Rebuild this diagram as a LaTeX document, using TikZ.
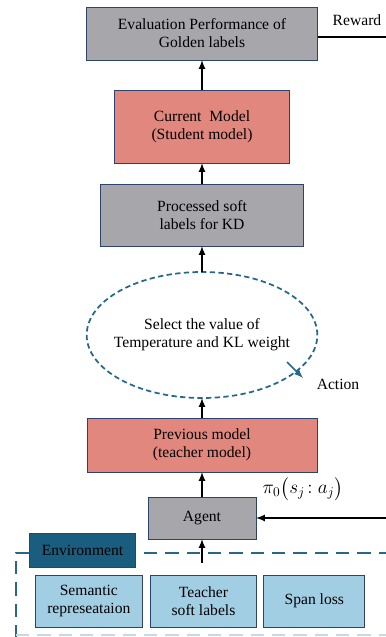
\documentclass[tikz,border=0pt]{standalone}
\usepackage{fontspec}
\setmainfont{Liberation Serif}
\usepackage{amsmath}
\usetikzlibrary{arrows, shapes, positioning}

\definecolor{boxgray}{RGB}{166,166,171}
\definecolor{boxred}{RGB}{226,135,126}
\definecolor{boxblue}{RGB}{162,206,228}
\definecolor{envblue}{RGB}{27,93,126}
\definecolor{dashblue}{RGB}{38,104,140}
\definecolor{boxline}{RGB}{45,66,110}

\tikzset{
  box/.style={draw=boxline, rectangle, align=center, inner sep=2pt, outer sep=0pt, line width=0.6pt},
  graybox/.style={box, fill=boxgray},
  redbox/.style={box, fill=boxred},
  srcbox/.style={box, fill=boxblue, minimum width=80pt, minimum height=39pt},
  envframe/.style={draw=dashblue, line width=1.1pt, dash pattern=on 10pt off 6pt},
}

\begin{document}
\begin{tikzpicture}[->,>=latex,x=0.75pt,y=-0.75pt,line width=1.3pt,
  font=\fontsize{11.7}{13.5}\selectfont]
\useasboundingbox (0,0) rectangle (386,637);

% environment frame
\draw[envframe,-] (392,553) -- (16,553) -- (16,642);
\draw[envframe,-,draw=dashblue!25] (16,635) -- (392,635);

\node[graybox, minimum width=81pt, minimum height=31.5pt] (agent) at (202,518) {Agent};
\node[redbox, minimum width=172.5pt, minimum height=40.5pt] (prev) [above=18.75pt of agent] {Previous model\\(teacher model)};
\node[ellipse, draw=dashblue, line width=1.3pt, dash pattern=on 4pt off 2.5pt, minimum width=173pt, minimum height=94.5pt, inner sep=0pt, outer sep=0pt] (select) [above=15pt of prev] {};
\node[align=center] (selecttext) at (select) {Select the value of\\Temperature and KL weight};
\node[graybox, minimum width=152.25pt, minimum height=46.5pt] (proc) [above=19.5pt of select] {Processed soft\\labels for KD};
\node[redbox, minimum width=131.25pt, minimum height=54.75pt] (cur) [above=15.75pt of proc] {Current\ \ Model\\(Student model)};
\node[graybox, minimum width=173.25pt, minimum height=39.75pt] (eval) [above=22.5pt of cur] {Evaluation Performance of\\Golden labels};

\node[srcbox] (teacher) at (203.5,601) {Teacher\\soft labels};
\node[srcbox] (sem) [left=6pt of teacher] {Semantic\\represeataion};
\node[srcbox, minimum width=75.75pt] (span) [right=5.25pt of teacher] {Span loss};
\node[box, fill=envblue, minimum width=80pt, minimum height=25.5pt] (env) at (82.5,550) {Environment};

\node (reward) at (357,20) {Reward};
\node (action) at (338,384) {Action};
\node[font=\fontsize{14}{16}\selectfont] (policy) at (303,489) {$\pi_0\bigl(s_j\!:a_j\bigr)$};

\coordinate (envout) at (202,563);
\coordinate (state) at (386,518);
\coordinate (rew) at (386,37);
\coordinate (act1) at (287,362);
\coordinate (act2) at (303,378);

\draw (envout) -- (agent);
\draw (agent) -- (prev);
\draw (prev) -- (select);
\draw (select) -- (proc);
\draw (proc) -- (cur);
\draw (cur) -- (eval);
\draw (state) -- (agent);
\draw[-] (eval.east |- rew) -- (rew);
\draw[draw=dashblue] (act1) -- (act2);
\end{tikzpicture}
\end{document}
